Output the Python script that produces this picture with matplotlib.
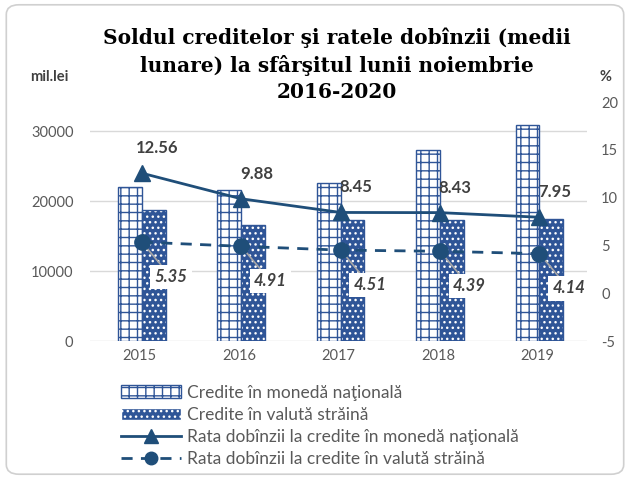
import matplotlib.pyplot as plt
from matplotlib.patches import FancyBboxPatch, Patch
from matplotlib.lines import Line2D
import numpy as np

years = ['2015', '2016', '2017', '2018', '2019']
credit_mdl = [22000, 21600, 22600, 27300, 30800]
credit_valuta = [18700, 16600, 17300, 17300, 17500]
rate_mdl = [12.56, 9.88, 8.45, 8.43, 7.95]
rate_valuta = [5.35, 4.91, 4.51, 4.39, 4.14]

blue = '#2f5597'
dark = '#1f4e79'
gray = '#595959'

plt.rcParams['font.family'] = ['Lato', 'DejaVu Sans']
plt.rcParams['axes.unicode_minus'] = False

fig = plt.figure(figsize=(6.3, 4.79), dpi=100)
fig.patches.append(FancyBboxPatch((0.01, 0.01), 0.98, 0.98, boxstyle='round,pad=0,rounding_size=0.02',
                                  transform=fig.transFigure, fc='none', ec='#d0d0d0', lw=1.2, zorder=-10))

ax = fig.add_axes([0.143, 0.288, 0.789, 0.499])
ax2 = ax.twinx()

x = np.arange(len(years))
w = 0.24
ax.bar(x - w / 2 + 0.02, credit_mdl, w, facecolor='white', edgecolor=blue, hatch='++', lw=1.0, zorder=2)
ax.bar(x + w / 2 + 0.02, credit_valuta, w, facecolor=blue, edgecolor='white', hatch='...', lw=0, zorder=2)
ax.bar(x + w / 2 + 0.02, credit_valuta, w, facecolor='none', edgecolor=blue, lw=1.0, zorder=3)

ax.set_xlim(-0.5, 4.5)
ax.set_ylim(0, 34150)
ax.set_yticks([0, 10000, 20000, 30000])
ax.set_xticks(x)
ax.set_xticklabels(years)
ax.grid(axis='y', color='#d9d9d9', lw=1, zorder=0)
ax.set_axisbelow(True)
for s in ax.spines.values():
    s.set_visible(False)
for s in ax2.spines.values():
    s.set_visible(False)
ax.tick_params(length=0, labelsize=10.5, labelcolor=gray, pad=12)
ax.tick_params(axis='x', pad=6)

ax2.plot(x + 0.02, rate_mdl, color=dark, lw=2.0, marker='^', ms=12, zorder=4)
ax2.plot(x + 0.02, rate_valuta, color=dark, lw=2.0, ls=(0, (4, 3)), marker='o', ms=11, zorder=4)
ax2.set_ylim(-5, 20)
ax2.set_yticks([-5, 0, 5, 10, 15, 20])
ax2.tick_params(length=0, labelsize=10.5, labelcolor=gray, pad=10)

for i, v in enumerate(rate_mdl):
    ax2.annotate(f'{v:.2f}', (x[i] + 0.02, v), xytext=(11, 18), textcoords='offset points',
                 ha='center', va='center', fontsize=12, fontweight='bold', color='#404040')
for i, v in enumerate(rate_valuta):
    ax2.annotate(f'{v:.2f}', (x[i] + 0.02, v), xytext=(21, -25), textcoords='offset points',
                 ha='center', va='center', fontsize=12, fontweight='bold', fontstyle='italic', color='#404040',
                 bbox=dict(fc='white', ec='none', pad=3),
                 arrowprops=dict(arrowstyle='-', color='#a6a6a6', lw=1.2, shrinkA=0, shrinkB=0))

fig.text(0.535, 0.864, 'Soldul creditelor şi ratele dobînzii (medii\nlunare) la sfârşitul lunii noiembrie\n2016-2020',
         ha='center', va='center', fontsize=14.5, fontweight='bold', family='DejaVu Serif', linespacing=1.4)
fig.text(0.048, 0.83, 'mil.lei', fontsize=10.5, fontweight='bold', color='#404040')
fig.text(0.952, 0.83, '%', fontsize=10.5, fontweight='bold', color='#404040')

handles = [Patch(facecolor='white', edgecolor=blue, hatch='++'),
           Patch(facecolor=blue, edgecolor='white', hatch='...'),
           Line2D([], [], color=dark, lw=2.0, marker='^', ms=10),
           Line2D([], [], color=dark, lw=2.0, ls=(0, (4, 3)), marker='o', ms=9)]
labels = ['Credite în monedă naţională', 'Credite în valută străină',
          'Rata dobînzii la credite în monedă naţională', 'Rata dobînzii la credite în valută străină']
fig.legend(handles, labels, loc='lower center', bbox_to_anchor=(0.507, 0.0), frameon=False,
           fontsize=12.5, labelcolor=gray, handlelength=3.5, handleheight=0.7, handletextpad=0.3,
           labelspacing=0.35, borderpad=0.2)

fig.savefig('out.png', dpi=100)
